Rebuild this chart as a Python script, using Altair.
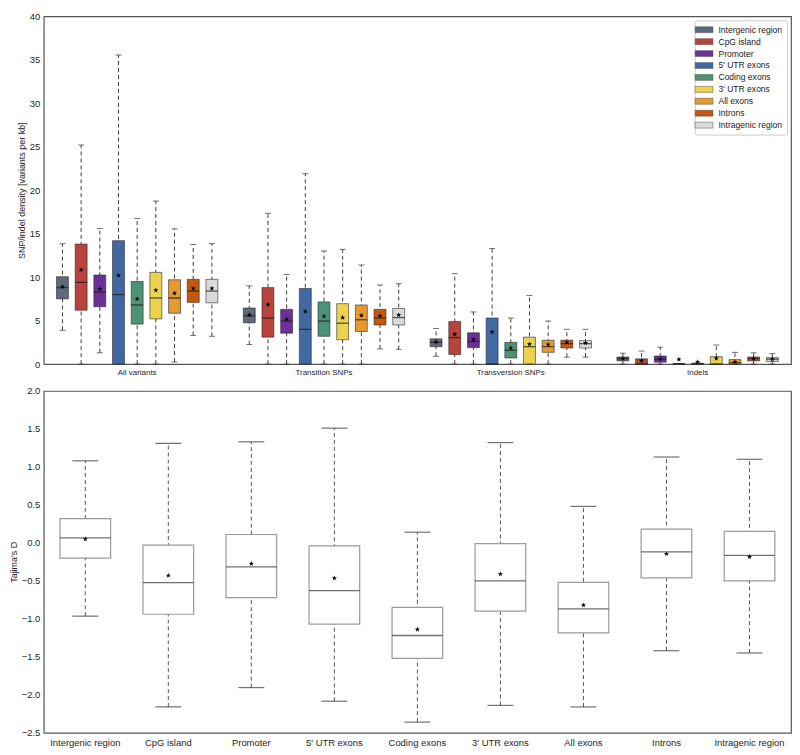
import altair as alt
import pandas as pd

groups = ["All variants", "Transition SNPs", "Transversion SNPs", "Indels"]
regions = ["Intergenic region", "CpG island", "Promoter", "5' UTR exons", "Coding exons",
           "3' UTR exons", "All exons", "Introns", "Intragenic region"]
colors = ["#5f6979", "#b8433a", "#6b3196", "#4169a3", "#4c9274",
          "#ebd34f", "#e59a31", "#c4580f", "#d9dbdb"]

# density statistics: one row per group, one value per region
top_low = [[3.9, 0, 1.3, 0, 0, 0, 0.25, 3.3, 3.2],
           [2.25, 0, 0, 0, 0, 0, 0, 1.75, 1.7],
           [0.9, 0, 0, 0, 0, 0, 0, 0.8, 0.8],
           [0, 0, 0, 0, 0, 0, 0, 0, 0]]
top_q1 = [[7.5, 6.2, 6.6, 0, 4.6, 5.2, 5.85, 7.1, 7.05],
          [4.75, 3.1, 3.55, 0, 3.2, 2.8, 3.75, 4.5, 4.5],
          [2.0, 1.1, 1.9, 0, 0.7, 0, 1.35, 1.85, 1.85],
          [0.37, 0, 0.22, 0, 0, 0, 0, 0.37, 0.3]]
top_med = [[8.8, 9.4, 8.3, 8.0, 6.8, 7.6, 7.6, 8.4, 8.4],
           [5.55, 5.3, 4.95, 4.0, 4.95, 4.7, 5.1, 5.3, 5.35],
           [2.5, 3.05, 2.6, 0, 1.6, 2.0, 2.0, 2.35, 2.35],
           [0.63, 0, 0.56, 0, 0, 0, 0.15, 0.63, 0.56]]
top_q3 = [[10.05, 13.8, 10.25, 14.2, 9.5, 10.55, 9.7, 9.75, 9.75],
          [6.45, 8.8, 6.3, 8.7, 7.15, 6.95, 6.8, 6.3, 6.4],
          [2.9, 4.9, 3.6, 5.3, 2.5, 3.1, 2.75, 2.75, 2.7],
          [0.82, 0.6, 0.93, 0.07, 0.11, 0.86, 0.52, 0.82, 0.75]]
top_high = [[13.85, 25.2, 15.6, 35.55, 16.75, 18.75, 15.55, 13.75, 13.85],
            [9.0, 17.35, 10.3, 21.9, 13.0, 13.2, 11.4, 9.1, 9.25],
            [4.1, 10.4, 6.0, 13.3, 5.3, 7.9, 4.95, 4.0, 4.0],
            [1.25, 1.5, 1.95, 0.07, 0.11, 2.2, 1.35, 1.3, 1.2]]
top_mean = [[8.9, 10.85, 8.65, 10.2, 7.5, 8.5, 8.15, 8.7, 8.7],
            [5.65, 6.85, 5.15, 6.05, 5.5, 5.35, 5.6, 5.55, 5.65],
            [2.55, 3.45, 2.85, 3.7, 1.85, 2.3, 2.25, 2.5, 2.45],
            [0.63, 0.4, 0.6, 0.55, 0.25, 0.65, 0.26, 0.63, 0.56]]

# Tajima's D statistics per region
bot_low = [-0.965, -2.16, -1.905, -2.085, -2.36, -2.14, -2.16, -1.42, -1.45]
bot_q1 = [-0.2, -0.94, -0.72, -1.07, -1.52, -0.9, -1.185, -0.46, -0.5]
bot_med = [0.065, -0.525, -0.315, -0.63, -1.22, -0.5, -0.87, -0.12, -0.165]
bot_q3 = [0.32, -0.03, 0.11, -0.04, -0.85, -0.01, -0.52, 0.18, 0.15]
bot_high = [1.08, 1.31, 1.33, 1.51, 0.14, 1.32, 0.48, 1.13, 1.10]
bot_mean = [0.05, -0.43, -0.275, -0.465, -1.14, -0.41, -0.82, -0.145, -0.185]

top_ticks = [0, 5, 10, 15, 20, 25, 30, 35, 40]
bot_ticks = [-2.5, -2.0, -1.5, -1.0, -0.5, 0.0, 0.5, 1.0, 1.5, 2.0]

STAR = ("M0,-1L0.235,-0.324L0.951,-0.309L0.38,0.124L0.588,0.809L0,0.4"
        "L-0.588,0.809L-0.38,0.124L-0.951,-0.309L-0.235,-0.324Z")
SWATCH = "M-1.8,-0.6H1.8V0.6H-1.8Z"
FONT = "Liberation Sans"

rows = []
for gi, g in enumerate(groups):
    for ri, r in enumerate(regions):
        rows.append(dict(group=g, region=r, low=top_low[gi][ri], q1=top_q1[gi][ri],
                         med=top_med[gi][ri], q3=top_q3[gi][ri], high=top_high[gi][ri],
                         mean=top_mean[gi][ri]))
top_df = pd.DataFrame(rows)

bot_df = pd.DataFrame(dict(region=regions, low=bot_low, q1=bot_q1, med=bot_med,
                           q3=bot_q3, high=bot_high, mean=bot_mean))

W = 752
H_TOP = 350
H_BOT = 344

# ---------- top panel ----------
xg = alt.X("group:N", sort=groups,
           scale=alt.Scale(paddingInner=0.1, paddingOuter=0.05),
           axis=alt.Axis(title=None, labelAngle=0, labelFontSize=8, ticks=False,
                         domain=False, labelPadding=4))
xo = alt.XOffset("region:N", sort=regions,
                 scale=alt.Scale(paddingInner=0, paddingOuter=0))
ys = alt.Scale(domain=[0, 40], nice=False, zero=True)

tb = alt.Chart(top_df)
t_whisk = tb.mark_rule(strokeDash=[4, 3], color="#3c3c3c", strokeWidth=1).encode(
    x=xg, xOffset=xo,
    y=alt.Y("low:Q", scale=ys,
            axis=alt.Axis(title="SNP/indel density [variants per kb]", values=top_ticks,
                          tickCount=len(top_ticks), format="d", ticks=False,
                          domain=False, grid=False, labelOverlap=False,
                          labelPadding=4, titlePadding=3,
                          labelFontSize=9.5, titleFontSize=9)),
    y2="high:Q")
t_box = tb.mark_bar(size=12, stroke="#2a2a2a", strokeWidth=0.8, strokeOpacity=0.75,
                    opacity=1).encode(
    x=xg, xOffset=xo, y="q1:Q", y2="q3:Q",
    color=alt.Color("region:N", sort=regions,
                    scale=alt.Scale(domain=regions, range=colors),
                    legend=alt.Legend(title=None, orient="top-right", offset=4,
                                      symbolType=SWATCH, symbolSize=100,
                                      symbolStrokeColor="#555", symbolStrokeWidth=0.5,
                                      labelFontSize=8.6, labelFont=FONT,
                                      labelColor="#222", labelOffset=9,
                                      rowPadding=1.0, padding=4,
                                      strokeColor="#cccccc", fillColor="white",
                                      cornerRadius=2)))
t_med = tb.mark_tick(size=12, thickness=1.3, color="#1a1a1a").encode(
    x=xg, xOffset=xo, y="med:Q")
t_caplo = tb.mark_tick(size=6, thickness=1, color="#333").encode(
    x=xg, xOffset=xo, y="low:Q")
t_caphi = tb.mark_tick(size=6, thickness=1, color="#333").encode(
    x=xg, xOffset=xo, y="high:Q")
t_star = tb.mark_point(shape=STAR, size=30, filled=True, color="black",
                       opacity=1).encode(x=xg, xOffset=xo, y="mean:Q")

top = alt.layer(t_whisk, t_box, t_med, t_caplo, t_caphi, t_star).properties(
    width=W, height=H_TOP)

# ---------- bottom panel ----------
xb = alt.X("region:N", sort=regions,
           scale=alt.Scale(paddingInner=0, paddingOuter=0),
           axis=alt.Axis(title=None, labelAngle=0, labelFontSize=9.5, ticks=False,
                         domain=False, labelPadding=5))
yb = alt.Scale(domain=[-2.5, 2.0], nice=False, zero=False)

bb = alt.Chart(bot_df)
b_whisk = bb.mark_rule(strokeDash=[4, 3], color="#555", strokeWidth=1).encode(
    x=xb,
    y=alt.Y("low:Q", scale=yb,
            axis=alt.Axis(title="Tajima's D", values=bot_ticks,
                          tickCount=len(bot_ticks), format=".1f",
                          ticks=False, domain=False, grid=False, labelOverlap=False,
                          labelPadding=4, titlePadding=3, labelFontSize=9.5,
                          titleFontSize=9)),
    y2="high:Q")
b_box = bb.mark_bar(width=alt.RelativeBandSize(0.61), fill="white", stroke="#9a9a9a",
                    strokeWidth=1.2).encode(x=xb, y="q1:Q", y2="q3:Q")
b_med = bb.mark_tick(size=51, thickness=1.3, color="#333").encode(x=xb, y="med:Q")
b_caplo = bb.mark_tick(size=26, thickness=1.2, color="#333").encode(x=xb, y="low:Q")
b_caphi = bb.mark_tick(size=26, thickness=1.2, color="#333").encode(x=xb, y="high:Q")
b_star = bb.mark_point(shape=STAR, size=30, filled=True, color="black",
                       opacity=1).encode(x=xb, y="mean:Q")

bottom = alt.layer(b_whisk, b_box, b_med, b_caplo, b_caphi, b_star).properties(
    width=W, height=H_BOT)

chart = alt.vconcat(top, bottom, spacing=8).properties(
    padding={"left": 0, "top": 0, "right": 0, "bottom": 0}
).configure(font=FONT).configure_view(
    stroke="#555555", strokeWidth=1.2
).configure_axis(
    labelFont=FONT, titleFont=FONT, labelColor="#262626", titleColor="#262626",
    titleFontWeight="normal", labelOverlap=False
)

chart.save("out.html", embed_options={"renderer": "svg", "actions": False})
